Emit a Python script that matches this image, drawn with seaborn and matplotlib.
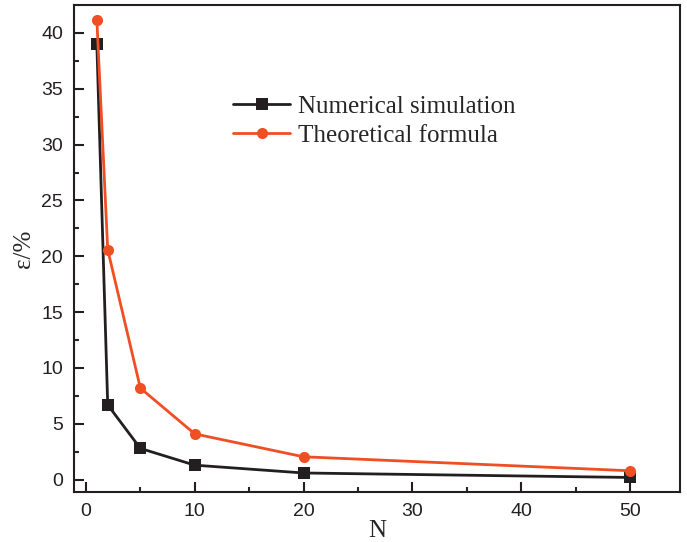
import numpy as np
import pandas as pd
import matplotlib.pyplot as plt
import seaborn as sns

# data
N = [1, 2, 5, 10, 20, 50]
numerical = [39.0, 6.7, 2.8, 1.3, 0.6, 0.2]
theoretical = [41.2, 20.6, 8.2, 4.1, 2.05, 0.8]

df = pd.DataFrame({
    "N": N * 2,
    "eps": numerical + theoretical,
    "series": ["Numerical simulation"] * len(N) + ["Theoretical formula"] * len(N),
})

sns.set_style("ticks")
plt.rcParams["font.family"] = ["Liberation Sans", "DejaVu Sans"]

fig = plt.figure(figsize=(6.87, 5.42), dpi=100)
ax = fig.add_axes([0.1077, 0.0923, 0.8821, 0.8985])

sns.lineplot(data=df, x="N", y="eps", hue="series", style="series",
             palette=["#231F20", "#F04E23"], markers=["s", "o"], dashes=False,
             markersize=8, linewidth=2, markeredgewidth=0, ax=ax)

ax.set_xlim(-1.1, 54.6)
ax.set_ylim(-1.1, 42.5)
ax.set_xticks([0, 10, 20, 30, 40, 50])
ax.set_xticks([5, 15, 25, 35, 45], minor=True)
ax.set_yticks(range(0, 45, 5))
ax.set_yticks(np.arange(2.5, 42.5, 5), minor=True)
ax.tick_params(direction="in", length=7, width=1.5, labelsize=14, colors="#231F20",
               pad=8, top=False, right=False)
ax.tick_params(which="minor", direction="in", length=3.5, width=1.5, top=False, right=False)
for s in ax.spines.values():
    s.set_linewidth(1.5)
    s.set_color("#231F20")

ax.set_xlabel("N", fontsize=18, family=["Liberation Serif"], labelpad=0)
ax.set_ylabel("ε/%", fontsize=18, family=["Liberation Serif"], labelpad=4)

ax.legend(loc="upper left", bbox_to_anchor=(0.225, 0.86), frameon=False,
          prop={"family": "Liberation Serif", "size": 18}, handlelength=2.3,
          handletextpad=0.3, labelspacing=0.25)

plt.savefig("out.png", dpi=100)
